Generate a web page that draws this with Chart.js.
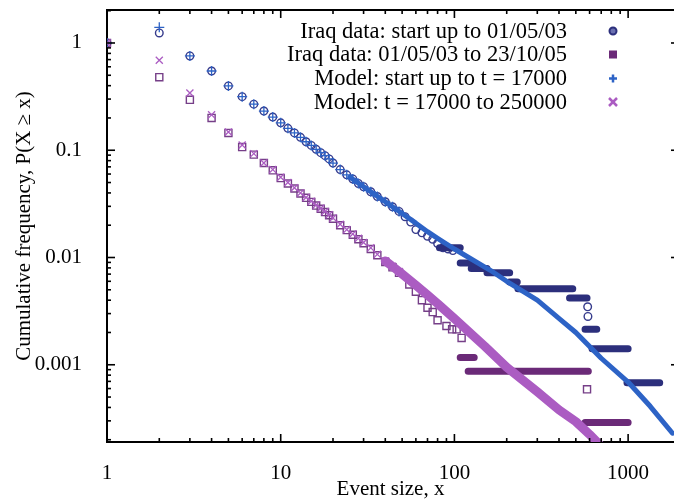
<!DOCTYPE html>
<html>
<head>
<meta charset="utf-8">
<script src="https://cdn.jsdelivr.net/npm/chart.js@4.4.0/dist/chart.umd.min.js"></script>
<style>
  body { margin: 0; background: #fff; }
  #wrap { position: relative; width: 674px; height: 500px; }
  #overlay { position: absolute; left: 0; top: 0; pointer-events: none; }
</style>
</head>
<body>
<div id="wrap">
  <canvas id="chart" width="674" height="500"></canvas>
  <canvas id="overlay" width="674" height="500"></canvas>
</div>
<script>
// event sizes where single markers can still be told apart
const sizes = [1, 2, 3, 4, 5, 6, 7, 8, 9, 10, 11, 12, 13, 14, 15, 16, 17, 18, 19, 20,
  22, 24, 26, 28, 30, 33, 36, 40, 44, 48];

// Iraq data: start up to 01/05/03 (circles)
const iraqEarly = [1, 1.24, 0.757, 0.548, 0.398, 0.316, 0.269, 0.232, 0.204, 0.180, 0.160, 0.145,
  0.132, 0.120, 0.111, 0.102, 0.095, 0.089, 0.083, 0.076, 0.066, 0.059, 0.054, 0.049, 0.0457,
  0.041, 0.037, 0.0331, 0.0297, 0.0269];
const iraqEarlyMoreX = [52, 56, 60, 65, 70, 75, 80, 86, 92, 98, 585, 587];
const iraqEarlyMoreY = [0.0240, 0.0214, 0.0182, 0.0170, 0.0158, 0.0148, 0.0135, 0.0123, 0.0120, 0.0116, 0.00347, 0.00282];
// runs of equal frequency: [from size, to size, frequency]
const iraqEarlySteps = [[82, 108, 0.0123], [108, 130, 0.0089], [125, 154, 0.0079], [154, 208, 0.0072],
  [208, 230, 0.0059], [232, 480, 0.0051], [460, 580, 0.0042], [565, 660, 0.00214],
  [620, 1000, 0.00141], [985, 1520, 0.00068]];

// Iraq data: 01/05/03 to 23/10/05 (squares)
const iraqLate = [1, 0.48, 0.295, 0.20, 0.145, 0.107, 0.091, 0.076, 0.065, 0.055, 0.049, 0.044,
  0.0395, 0.036, 0.033, 0.0305, 0.0285, 0.0265, 0.0248, 0.023, 0.020, 0.018, 0.0163, 0.0148,
  0.0136, 0.012, 0.0105, 0.0091, 0.0081, 0.0072];
const iraqLateMoreX = [55, 60, 65, 70, 75, 80, 90, 97, 103, 110, 580];
const iraqLateMoreY = [0.0056, 0.0048, 0.0040, 0.0034, 0.0031, 0.0026, 0.0023, 0.00214, 0.00214, 0.00178, 0.00059];
const iraqLateSteps = [[108, 130, 0.00117], [120, 590, 0.00087], [565, 1000, 0.00029]];

// Model: start up to t = 17000 (plus)
const modelEarly = [1, 1.40, 0.757, 0.548, 0.398, 0.316, 0.269, 0.232, 0.204, 0.180, 0.160, 0.145,
  0.132, 0.120, 0.111, 0.102, 0.095, 0.089, 0.083, 0.076, 0.066, 0.059, 0.054, 0.049, 0.0457,
  0.041, 0.037, 0.0331, 0.0297, 0.0269];
const modelEarlyTailX = [25, 30, 40, 50, 60, 70, 80, 100, 161, 200, 300, 406, 500, 700, 1000, 1340, 1800];
const modelEarlyTailY = [0.0562, 0.0457, 0.0331, 0.0257, 0.0209, 0.0174, 0.0151, 0.0120, 0.0076,
  0.0060, 0.0040, 0.00265, 0.0020, 0.00115, 0.00069, 0.00041, 0.00023];

// Model: t = 17000 to 250000 (crosses)
const modelLate = [1, 0.69, 0.342, 0.214, 0.148, 0.112, 0.093, 0.076, 0.066, 0.056, 0.050, 0.0447,
  0.040, 0.0363, 0.0335, 0.0309, 0.0288, 0.0269, 0.0251, 0.0234, 0.0204, 0.0182, 0.0166, 0.0151,
  0.0138, 0.0123, 0.0107, 0.0093, 0.0083, 0.0074];
const modelLateTailX = [40, 48, 60, 70, 80, 100, 150, 200, 300, 400, 500, 600, 700];
const modelLateTailY = [0.0093, 0.0074, 0.0055, 0.00447, 0.00372, 0.00269, 0.00148, 0.00095,
  0.00056, 0.00038, 0.000295, 0.000224, 0.000174];

const xTickValues = [1, 10, 100, 1000];
const xTickLabels = ['1', '10', '100', '1000'];
const yTickValues = [0.001, 0.01, 0.1, 1];
const yTickLabels = ['0.001', '0.01', '0.1', '1'];

const legendLabels = ['Iraq data: start up to 01/05/03', 'Iraq data: 01/05/03 to 23/10/05',
  'Model: start up to t = 17000', 'Model: t = 17000 to 250000'];

const navy = '#2c2f7c', purple = '#6b2a78', blue = '#2d63c6', violet = '#ab5cc2';

function pairs(xs, ys) {
  return xs.map((x, i) => ({x: x, y: ys[i]}));
}
function stepSegments(steps) {
  const out = [];
  steps.forEach(s => {
    out.push({x: s[0], y: s[2]}, {x: s[1], y: s[2]}, {x: s[1], y: null});
  });
  return out;
}

Chart.defaults.font.family = '"Liberation Serif", "DejaVu Serif", serif';
Chart.defaults.font.size = 21;
Chart.defaults.color = '#000';

// top frame line and inward tick marks go on the overlay canvas, legend on the chart
const frame = {
  id: 'frame',
  afterDraw(chart) {
    const {ctx, chartArea: a, scales: {x, y}} = chart;
    const o = document.getElementById('overlay').getContext('2d');
    o.clearRect(0, 0, 674, 500);
    o.strokeStyle = '#000';
    const seg = (c, x1, y1, x2, y2) => { c.beginPath(); c.moveTo(x1, y1); c.lineTo(x2, y2); c.stroke(); };
    o.lineWidth = 2;
    seg(o, a.left - 1, a.top, 674, a.top);
    o.lineWidth = 1.6;
    [1, 10, 100, 1000].forEach(d => {
      for (let m = 1; m <= 9; m++) {
        const v = d * m;
        if (v > x.max) break;
        const px = x.getPixelForValue(v);
        const len = m === 1 ? 8 : 4;
        seg(o, px, a.bottom, px, a.bottom - len);
        seg(o, px, a.top, px, a.top + len);
      }
    });
    [0.0001, 0.001, 0.01, 0.1, 1].forEach(d => {
      for (let m = 1; m <= 9; m++) {
        const v = d * m;
        if (v < y.min || v > y.max) continue;
        const py = y.getPixelForValue(v);
        seg(o, a.left, py, a.left + (m === 1 ? 8 : 4), py);
        if (m === 1) seg(o, a.right, py, a.right - 3, py);
      }
    });

    // legend
    ctx.save();
    ctx.font = '22.5px "Liberation Serif", serif';
    ctx.textAlign = 'right';
    ctx.textBaseline = 'middle';
    ctx.fillStyle = '#000';
    const rows = [31, 54.5, 78.5, 102];
    legendLabels.forEach((t, i) => ctx.fillText(t, 567, rows[i] + 1));
    const mx = 613;
    ctx.lineWidth = 2;
    ctx.strokeStyle = navy; ctx.fillStyle = '#6a6fb0';
    ctx.beginPath(); ctx.arc(mx, rows[0], 3.5, 0, Math.PI * 2); ctx.fill(); ctx.stroke();
    ctx.fillStyle = purple;
    ctx.fillRect(mx - 4, rows[1] - 4, 8, 8);
    ctx.strokeStyle = blue; ctx.lineWidth = 2.5;
    seg(ctx, mx - 4, rows[2], mx + 4, rows[2]); seg(ctx, mx, rows[2] - 4, mx, rows[2] + 4);
    ctx.strokeStyle = violet;
    seg(ctx, mx - 4, rows[3] - 4, mx + 4, rows[3] + 4); seg(ctx, mx - 4, rows[3] + 4, mx + 4, rows[3] - 4);
    ctx.restore();
  }
};

new Chart(document.getElementById('chart'), {
  type: 'scatter',
  data: {
    datasets: [
      {
        label: legendLabels[3],
        data: pairs(sizes, modelLate),
        pointStyle: 'crossRot', pointRadius: 5, borderWidth: 1.3,
        borderColor: violet, backgroundColor: violet
      },
      {
        label: legendLabels[2],
        data: pairs(sizes, modelEarly),
        pointStyle: 'cross', pointRadius: 5, borderWidth: 1.3,
        borderColor: blue, backgroundColor: blue
      },
      {
        label: 'model late tail',
        data: pairs(modelLateTailX, modelLateTailY),
        showLine: true, pointRadius: 0, borderWidth: 9, borderColor: violet,
        borderCapStyle: 'round', borderJoinStyle: 'round'
      },
      {
        label: 'model early tail',
        data: pairs(modelEarlyTailX, modelEarlyTailY),
        showLine: true, pointRadius: 0, borderWidth: 5, borderColor: blue,
        borderCapStyle: 'round', borderJoinStyle: 'round'
      },
      {
        label: 'late steps',
        data: stepSegments(iraqLateSteps),
        showLine: true, pointRadius: 0, borderWidth: 7, borderColor: purple,
        borderCapStyle: 'round', spanGaps: false
      },
      {
        label: 'early steps',
        data: stepSegments(iraqEarlySteps),
        showLine: true, pointRadius: 0, borderWidth: 7, borderColor: navy,
        borderCapStyle: 'round', spanGaps: false
      },
      {
        label: legendLabels[1],
        data: pairs(sizes, iraqLate).concat(pairs(iraqLateMoreX, iraqLateMoreY)),
        pointStyle: 'rect', pointRadius: 5, borderWidth: 1.4,
        borderColor: '#763f88', backgroundColor: 'rgba(0,0,0,0)'
      },
      {
        label: legendLabels[0],
        data: pairs(sizes, iraqEarly).concat(pairs(iraqEarlyMoreX, iraqEarlyMoreY)),
        pointStyle: 'circle', pointRadius: 3.8, borderWidth: 1.4,
        borderColor: '#363b8c', backgroundColor: 'rgba(0,0,0,0)'
      }
    ]
  },
  options: {
    responsive: false,
    animation: false,
    layout: { autoPadding: false, padding: { top: 10, right: 0, left: 0, bottom: 0 } },
    plugins: { legend: { display: false }, tooltip: { enabled: false } },
    scales: {
      x: {
        type: 'logarithmic',
        min: 1, max: 1837,
        afterFit: s => { s.height = 58; s.paddingLeft = 0; s.paddingRight = 0; },
        afterBuildTicks: s => { s.ticks = xTickValues.map(v => ({value: v})); },
        ticks: { padding: 11, maxRotation: 0, callback: (v, i) => xTickLabels[i] },
        grid: { display: false },
        border: { display: true, color: '#000', width: 2 },
        title: { display: true, text: 'Event size, x', font: { size: 21, lineHeight: 1 }, padding: 0 }
      },
      y: {
        type: 'logarithmic',
        min: 0.0001905, max: 2.03,
        afterFit: s => { s.width = 107; s.paddingTop = 0; s.paddingBottom = 0; },
        afterBuildTicks: s => { s.ticks = yTickValues.map(v => ({value: v})); },
        ticks: { padding: 17, callback: (v, i) => yTickLabels[i] },
        grid: { display: false },
        border: { display: true, color: '#000', width: 2 },
        title: { display: true, text: 'Cumulative frequency, P(X \u2265 x)', font: { size: 21 }, padding: { top: 12 } }
      }
    }
  },
  plugins: [frame]
});
</script>
</body>
</html>
